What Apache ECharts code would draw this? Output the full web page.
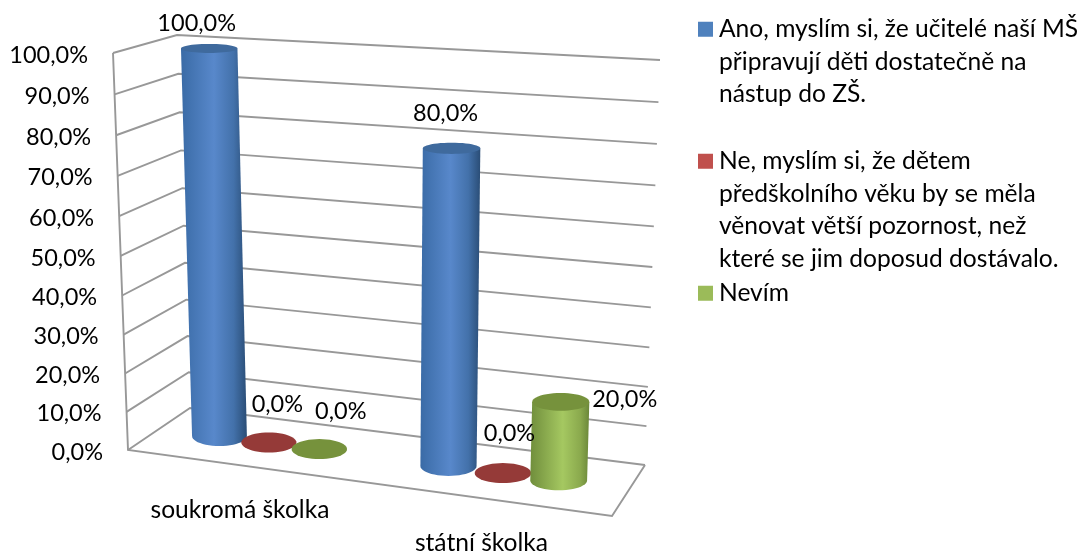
<!DOCTYPE html>
<html>
<head>
<meta charset="utf-8">
<style>html,body{margin:0;padding:0;background:#fff}#c{width:1084px;height:553px}</style>
<script src="https://cdn.jsdelivr.net/npm/echarts@6/dist/echarts.min.js"></script>
</head>
<body>
<div id="c"></div>
<script>
const categories = ['soukromá školka', 'státní školka'];
const seriesNames = [
  'Ano, myslím si, že učitelé naší MŠ\npřipravují děti dostatečně na\nnástup do ZŠ.',
  'Ne, myslím si, že dětem\npředškolního věku by se měla\nvěnovat větší pozornost, než\nkteré se jim doposud dostávalo.',
  'Nevím'
];
const anoValues = [100, 80];
const neValues = [0, 0];
const nevimValues = [0, 20];
const yTicks = [0, 10, 20, 30, 40, 50, 60, 70, 80, 90, 100];

// ---- presentation ----
const FONT = 'Lato';
const GRID = {left: 128, top: 56, width: 484, height: 396};
const floorQuad = [[128, 450], [612, 516], [645, 465], [190, 408]]; // front-L, front-R, back-R, back-L
const topQuad = [[113, 53], [627, 97], [660, 60], [177, 35]];
const CURVE = 0.045;
const pct = v => v.toFixed(1).replace('.', ',') + '%';

function homography(q) {
  const [p0, p1, p2, p3] = q;
  const dx1 = p1[0] - p2[0], dx2 = p3[0] - p2[0], sx = p0[0] - p1[0] + p2[0] - p3[0];
  const dy1 = p1[1] - p2[1], dy2 = p3[1] - p2[1], sy = p0[1] - p1[1] + p2[1] - p3[1];
  const den = dx1 * dy2 - dx2 * dy1;
  const g = (sx * dy2 - dx2 * sy) / den, h = (dx1 * sy - sx * dy1) / den;
  const a = p1[0] - p0[0] + g * p1[0], b = p3[0] - p0[0] + h * p3[0], c = p0[0];
  const d = p1[1] - p0[1] + g * p1[1], e = p3[1] - p0[1] + h * p3[1], f = p0[1];
  return (u, v) => {
    const w = g * u + h * v + 1;
    return [(a * u + b * v + c) / w, (d * u + e * v + f) / w, w];
  };
}
const floorH = homography(floorQuad);
const mix = (p, q, t) => [p[0] + (q[0] - p[0]) * t, p[1] + (q[1] - p[1]) * t];
function project(u, depth, h) {
  const hh = h - CURVE * h * (1 - h);
  const a = floorH(u, depth);
  // fraction across the floor at this depth, reused on the top plane
  const l = mix(floorQuad[0], floorQuad[3], depth), r = mix(floorQuad[1], floorQuad[2], depth);
  const s = (a[0] - l[0]) / (r[0] - l[0]);
  const b = mix(mix(topQuad[0], topQuad[3], depth), mix(topQuad[1], topQuad[2], depth), s);
  return [a[0] + (b[0] - a[0]) * hh, a[1] + (b[1] - a[1]) * hh, a[2]];
}
const toU = x => (x - GRID.left) / GRID.width;
const toH = y => (GRID.top + GRID.height - y) / GRID.height;

function ellipsePts(cx, cy, rx, ry, from, to, n) {
  const pts = [];
  for (let i = 0; i <= n; i++) {
    const t = from + (to - from) * i / n;
    pts.push([cx + rx * Math.cos(t), cy + ry * Math.sin(t)]);
  }
  return pts;
}
const looks = [
  {offset: -0.224, legend: '#4f81bd', top: '#3f6a9d',
   body: [['0', '#3a6ba6'], ['0.5', '#5888cb'], ['0.8', '#4371aa'], ['1', '#2a4d76']]},
  {offset: 0, legend: '#c0504d', top: '#953a38',
   body: [['0', '#8f3431'], ['0.55', '#c8534f'], ['1', '#7e2e2c']]},
  {offset: 0.224, legend: '#9bbb59', top: '#76923c',
   body: [['0', '#708e3c'], ['0.55', '#a5c861'], ['0.85', '#8aa94d'], ['1', '#6b8739']]}
];
// label placement relative to cylinder top, per [series][category]
const labelNudge = [
  [[-12.5, -25.5], [-6, -35]],
  [[8.5, -38], [6.5, -40]],
  [[21.5, -38], [64, -2.5]]
];

function cylinderItem(si) {
  const look = looks[si];
  return function (params, api) {
    const cat = api.value(0), val = api.value(1);
    const band = api.size([1, 0])[0];
    const pTop = api.coord([cat, val]);
    const u = toU(pTop[0] + look.offset * band), h = toH(pTop[1]);
    const b = project(u, 0.5, 0), t = project(u, 0.5, h);
    const rx0 = 0.1145 * band / Math.sqrt(b[2]);
    const rx1 = rx0 * (1 + 0.03 * h);
    const ryAt = x => 10 - 5.5 * x;
    const children = [];
    if (h > 0) {
      const side = ellipsePts(b[0], b[1], rx0, ryAt(0), 0, Math.PI, 24)
        .concat([[t[0] - rx1, t[1]], [t[0] + rx1, t[1]]]);
      children.push({
        type: 'polygon', shape: {points: side},
        style: {fill: new echarts.graphic.LinearGradient(0, 0, 1, 0,
          look.body.map(s => ({offset: +s[0], color: s[1]})))}
      });
    }
    children.push({
      type: 'polygon',
      shape: {points: ellipsePts(t[0], t[1], rx1, ryAt(h), 0, Math.PI * 2, 48)},
      style: {fill: look.top}
    });
    const n = labelNudge[si][cat];
    children.push({
      type: 'text', z2: 100,
      style: {
        text: pct(val),
        x: t[0] + n[0], y: t[1] + n[1], align: 'center', verticalAlign: 'middle',
        fill: '#000', font: '23.5px ' + FONT
      }
    });
    return {type: 'group', children};
  };
}

function frameItem(params, api) {
  const tick = api.value(1);
  const h = toH(api.coord([0, tick])[1]);
  const a = project(0, 0, h), b = project(0, 1, h), c = project(1, 1, h);
  const st = {stroke: '#989898', lineWidth: 1.9, fill: null};
  const children = [
    {type: 'polyline', shape: {points: [a.slice(0, 2), b.slice(0, 2), c.slice(0, 2)]}, style: st},
    // tick labels follow the slanted wall edge
    {type: 'text', style: {text: pct(tick), x: a[0] - 25, y: a[1] + 2, align: 'right', verticalAlign: 'middle',
      fill: '#000', font: '23.5px ' + FONT}}
  ];
  if (tick === yTicks[0]) {
    const f = project(1, 0, 0), top = project(0, 0, 1);
    children.push({type: 'polyline', shape: {points: [c.slice(0, 2), f.slice(0, 2), a.slice(0, 2), top.slice(0, 2)]}, style: st});
  }
  return {type: 'group', children};
}

function categoryItem(params, api) {
  const i = api.value(0);
  const p = project(toU(api.coord([i, 0])[0]), 0, 0);
  return {
    type: 'text',
    style: {
      text: categories[i], x: p[0], y: p[1] + 44.5, align: 'center', verticalAlign: 'middle',
      fill: '#000', font: '24.6px ' + FONT
    }
  };
}

const valueSets = [anoValues, neValues, nevimValues];
const LINE = 32.5;
function legendIcon(lines) {
  const H = lines * LINE;
  return 'path://M0 8.75H15V23.75H0Z M0 0h.01v.01H0Z M14.99 ' + (H - 0.01) + 'h.01v.01h-.01Z';
}
const legendTops = [13, 145, 277];
const legends = seriesNames.map((name, i) => {
  const lines = name.split('\n').length;
  return {
    left: 698, top: legendTops[i], padding: 0, orient: 'vertical', selectedMode: false,
    itemWidth: 15, itemHeight: lines * LINE, itemGap: 0,
    icon: legendIcon(lines), data: [name],
    textStyle: {fontFamily: FONT, fontSize: 24.6, color: '#000', lineHeight: LINE, padding: [0, 0, 0, 1]}
  };
});

const chart = echarts.init(document.getElementById('c'));
chart.setOption({
  animation: false,
  backgroundColor: '#fff',
  textStyle: {fontFamily: FONT},
  legend: legends,
  grid: {left: GRID.left, top: GRID.top, width: GRID.width, height: GRID.height, containLabel: false},
  xAxis: {type: 'category', data: categories, axisLine: {show: false}, axisTick: {show: false}, axisLabel: {show: false}, splitLine: {show: false}},
  yAxis: {
    type: 'value', min: 0, max: 100, interval: 10,
    axisLine: {show: false}, axisTick: {show: false}, splitLine: {show: false},
    axisLabel: {show: false}
  },
  series: [
    {type: 'custom', name: 'frame', z: 1, silent: true, renderItem: frameItem, clip: false,
      data: yTicks.map(t => [0, t]), encode: {x: 0, y: 1}},
    {type: 'custom', name: 'categories', z: 1, silent: true, renderItem: categoryItem, clip: false,
      data: categories.map((c, i) => [i, 0]), encode: {x: 0, y: 1}}
  ].concat(seriesNames.map((name, i) => ({
    type: 'custom', name, z: 3, silent: true, clip: false,
    itemStyle: {color: looks[i].legend},
    renderItem: cylinderItem(i),
    data: valueSets[i].map((v, c) => [c, v]), encode: {x: 0, y: 1}
  })))
});
</script>
</body>
</html>
